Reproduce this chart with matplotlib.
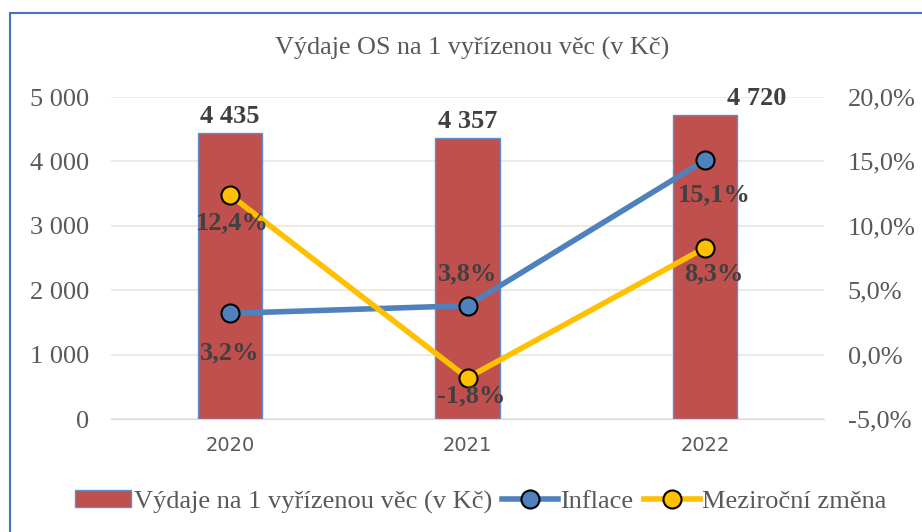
import matplotlib
matplotlib.use("Agg")
import matplotlib.pyplot as plt
from matplotlib.patches import Rectangle
from matplotlib.lines import Line2D
from matplotlib.patches import Patch

years = ["2020", "2021", "2022"]
vydaje = [4435, 4357, 4720]
vydaje_labels = ["4 435", "4 357", "4 720"]
inflace = [3.2, 3.8, 15.1]
mezirocni = [12.4, -1.8, 8.3]
left_ticks = [0, 1000, 2000, 3000, 4000, 5000]
left_ticklabels = ["0", "1 000", "2 000", "3 000", "4 000", "5 000"]
right_ticks = [-5, 0, 5, 10, 15, 20]
right_ticklabels = ["-5,0%", "0,0%", "5,0%", "10,0%", "15,0%", "20,0%"]

serif = "Liberation Serif"
txt = "#595959"
lbl = "#404040"

fig = plt.figure(figsize=(9.22, 5.32), dpi=100)
fig.patches.append(Rectangle((10/922, -0.1), 1.2, 1 - 13/532 + 0.1, transform=fig.transFigure,
                             fill=False, edgecolor="#4472C4", linewidth=1.5))

ax = fig.add_axes([111/922, 1 - 419/532, (824 - 111)/922, (419 - 97)/532])
x = list(range(len(years)))
ax.set_xlim(-0.5, 2.5)
ax.set_ylim(0, 5000)
ax.bar(x, vydaje, width=0.27, color="#C0504D", edgecolor="#5B8FD0", linewidth=1.0, zorder=2)
ax.set_yticks(left_ticks)
ax.set_yticklabels(left_ticklabels, fontfamily=serif, fontsize=19, color=txt)
ax.set_xticks(x)
ax.set_xticklabels(years, fontfamily="DejaVu Sans", fontsize=14, color=txt)
ax.tick_params(axis="y", length=0, pad=16)
ax.tick_params(axis="x", length=0, pad=12)
for s in ["top", "right", "left"]:
    ax.spines[s].set_visible(False)
ax.spines["bottom"].set_color("#D9D9D9")
ax.grid(axis="y", color="#EBE7DE", linewidth=1.2, zorder=0)
ax.set_axisbelow(True)

offs = [0, 0, 52]
for i, (v, s) in enumerate(zip(vydaje, vydaje_labels)):
    ax.annotate(s, (i, v), xytext=(offs[i], 5), textcoords="offset pixels",
                ha="center", va="bottom", fontfamily=serif, fontsize=19, fontweight="bold", color=lbl)

ax2 = ax.twinx()
ax2.set_ylim(-5, 20)
ax2.set_yticks(right_ticks)
ax2.set_yticklabels(right_ticklabels, fontfamily=serif, fontsize=19, color=txt)
ax2.tick_params(axis="y", length=0, pad=17)
for s in ["top", "right", "left", "bottom"]:
    ax2.spines[s].set_visible(False)

ax2.plot(x, inflace, color="#4F81BD", linewidth=4, marker="o", markersize=13,
         markerfacecolor="#4F81BD", markeredgecolor="black", markeredgewidth=1.5, zorder=3)
ax2.plot(x, mezirocni, color="#FFC000", linewidth=4, marker="o", markersize=13,
         markerfacecolor="#FFC000", markeredgecolor="black", markeredgewidth=1.5, zorder=3)

def pct(v):
    return ("%.1f" % v).replace(".", ",") + "%"

infl_off = [(0, -39), (0, 32), (9, -35)]
mez_off = [(2, -28), (4, -18), (9, -26)]
for i, v in enumerate(inflace):
    ax2.annotate(pct(v), (i, v), xytext=infl_off[i], textcoords="offset pixels",
                 ha="center", va="center", fontfamily=serif, fontsize=19, fontweight="bold", color=lbl, zorder=4)
for i, v in enumerate(mezirocni):
    ax2.annotate(pct(v), (i, v), xytext=mez_off[i], textcoords="offset pixels",
                 ha="center", va="center", fontfamily=serif, fontsize=19, fontweight="bold", color=lbl, zorder=4)

fig.text(472/922, 1 - 48/532, "Výdaje OS na 1 vyřízenou věc (v Kč)", ha="center", va="center",
         fontfamily=serif, fontsize=18.8, color=txt)

handles = [
    Patch(facecolor="#C0504D", edgecolor="#5B8FD0", linewidth=1.0),
    Line2D([0], [0], color="#4F81BD", linewidth=4, marker="o", markersize=13,
           markerfacecolor="#4F81BD", markeredgecolor="black", markeredgewidth=1.5),
    Line2D([0], [0], color="#FFC000", linewidth=4, marker="o", markersize=13,
           markerfacecolor="#FFC000", markeredgecolor="black", markeredgewidth=1.5),
]
labels = ["Výdaje na 1 vyřízenou věc (v Kč)", "Inflace", "Meziroční změna"]
leg = fig.legend(handles, labels, loc="center", bbox_to_anchor=(481/922, 1 - 502/532), ncol=3,
                 frameon=False, prop={"family": serif, "size": 19}, handlelength=2.1,
                 handletextpad=0.1, columnspacing=0.4, handleheight=0.6)
for t in leg.get_texts():
    t.set_color(txt)

fig.savefig("out.png", dpi=100)
